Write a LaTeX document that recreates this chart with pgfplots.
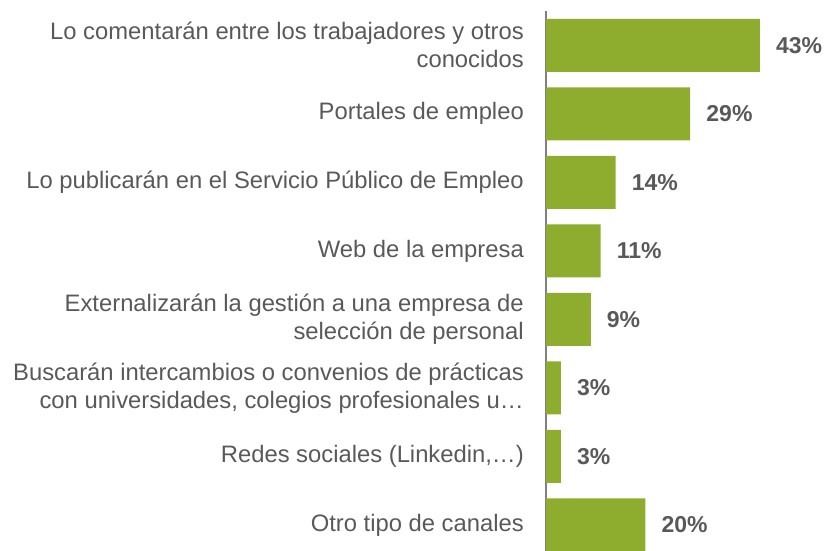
\documentclass[border=0pt]{standalone}
\usepackage{fontspec}
\setmainfont{Liberation Sans}
\usepackage{pgfplots}
\pgfplotsset{compat=1.18}
\definecolor{bargreen}{RGB}{142,172,45}
\definecolor{txtgray}{RGB}{89,89,89}
\definecolor{axgray}{RGB}{128,128,128}
\begin{document}
\begin{tikzpicture}
\useasboundingbox (0,0) rectangle (827pt,-551pt);
\begin{axis}[
  at={(546pt,-551pt)}, anchor=south west,
  scale only axis, width=281pt, height=540pt,
  xbar, bar width=53pt,
  xmin=0, xmax=56.5,
  ymin=-0.5, ymax=7.38, y dir=reverse,
  axis x line=none,
  axis y line*=left,
  y axis line style={axgray, line width=1.5pt},
  xtick=\empty,
  ytick={0,1,2,3,4,5,6,7},
  major tick length=0pt,
  /pgf/number format/assume math mode=true,
  yticklabels={
    {Lo comentarán entre los trabajadores y otros\\conocidos},
    {Portales de empleo},
    {Lo publicarán en el Servicio Público de Empleo},
    {Web de la empresa},
    {Externalizarán la gestión a una empresa de\\selección de personal},
    {Buscarán intercambios o convenios de prácticas\\con universidades, colegios profesionales u…},
    {Redes sociales (Linkedin,…)},
    {Otro tipo de canales}},
  yticklabel style={align=right, font=\fontsize{23.8}{28}\selectfont, text=txtgray, inner sep=0pt, xshift=-22pt},
  nodes near coords={\pgfmathprintnumber{\pgfplotspointmeta}\%},
  nodes near coords style={font=\fontsize{23}{27}\selectfont\bfseries, text=txtgray, anchor=west, inner sep=0pt, xshift=16pt},
  point meta=x,
  clip=false,
]
\addplot[fill=bargreen, draw=none] coordinates {
  (43,0) (29,1) (14,2) (11,3) (9,4) (3,5) (3,6) (20,7)};
\end{axis}
\end{tikzpicture}
\end{document}
